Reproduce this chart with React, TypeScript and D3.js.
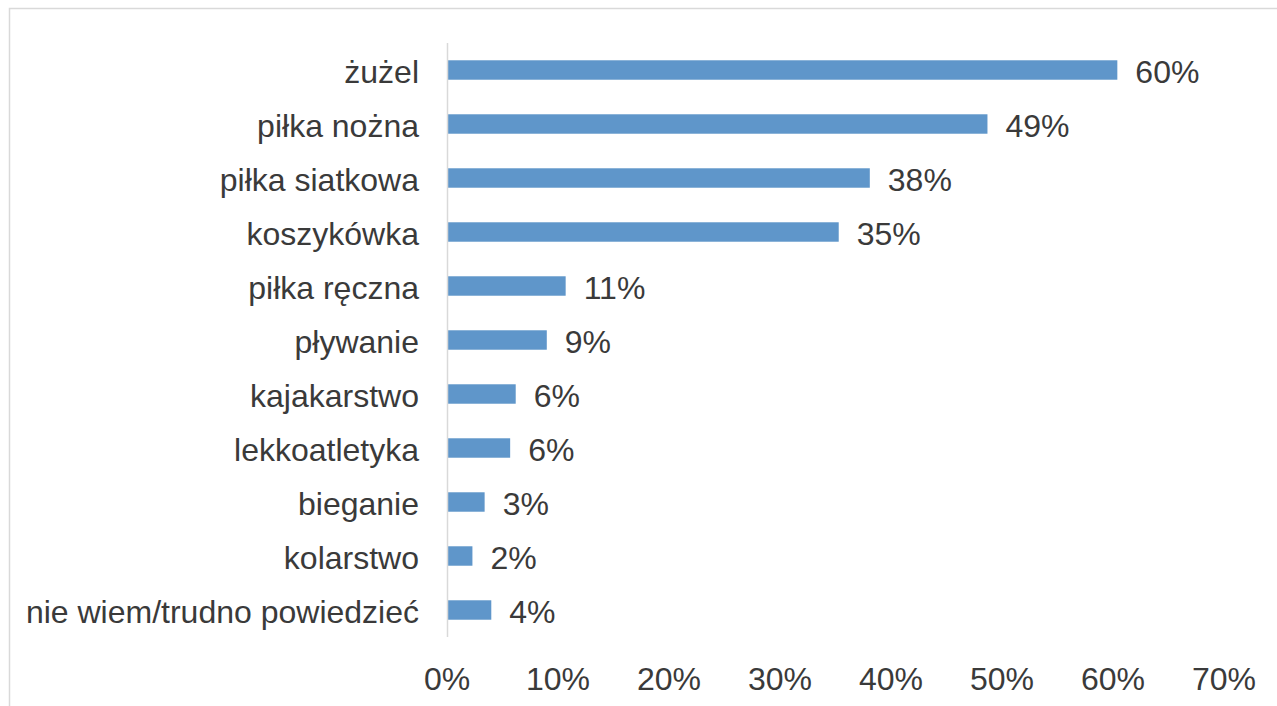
import React from "react";
import * as d3 from "d3";

const categories = [
  "żużel",
  "piłka nożna",
  "piłka siatkowa",
  "koszykówka",
  "piłka ręczna",
  "pływanie",
  "kajakarstwo",
  "lekkoatletyka",
  "bieganie",
  "kolarstwo",
  "nie wiem/trudno powiedzieć",
];
const values = [60.3, 48.6, 38.0, 35.2, 10.6, 8.9, 6.1, 5.6, 3.3, 2.2, 3.9];
const labels = ["60%", "49%", "38%", "35%", "11%", "9%", "6%", "6%", "3%", "2%", "4%"];
const ticks = [0, 10, 20, 30, 40, 50, 60, 70];

const W = 1277;
const H = 706;
const FONT = "'Liberation Sans', Arial, sans-serif";
const TEXT = "#3a3a3a";

export default function App() {
  const x = d3.scaleLinear().domain([0, 70]).range([448, 1225]);
  const y = d3
    .scaleBand<string>()
    .domain(categories)
    .range([43, 637])
    .paddingInner(0.64)
    .paddingOuter(0.32);

  return (
    <div style={{ position: "absolute", left: 0, top: 0 }}>
      <svg width={W} height={H} style={{ display: "block" }}>
        <rect x={0} y={0} width={W} height={H} fill="#fff" />
        <rect x={9.5} y={8.5} width={W + 20} height={H + 20} fill="none" stroke="#d9d9d9" strokeWidth={1.5} />
        {categories.map((c, i) => {
          const yc = (y(c) as number) + y.bandwidth() / 2;
          return (
            <g key={c}>
              <rect
                x={x(0)}
                y={y(c)}
                width={x(values[i]) - x(0)}
                height={y.bandwidth()}
                fill="#5f96ca"
              />
              <text
                x={419}
                y={yc}
                dy="0.4em"
                textAnchor="end"
                fontFamily={FONT}
                fontSize={32}
                fill={TEXT}
              >
                {c}
              </text>
              <text
                x={x(values[i]) + 18}
                y={yc}
                dy="0.4em"
                textAnchor="start"
                fontFamily={FONT}
                fontSize={32}
                fill={TEXT}
              >
                {labels[i]}
              </text>
            </g>
          );
        })}
        <line x1={447.5} x2={447.5} y1={43} y2={637} stroke="#d9d9d9" strokeWidth={1.5} />
        {ticks.map((t) => (
          <text
            key={t}
            x={x(t) - 1}
            y={690}
            textAnchor="middle"
            fontFamily={FONT}
            fontSize={32}
            fill={TEXT}
          >
            {t + "%"}
          </text>
        ))}
      </svg>
    </div>
  );
}
